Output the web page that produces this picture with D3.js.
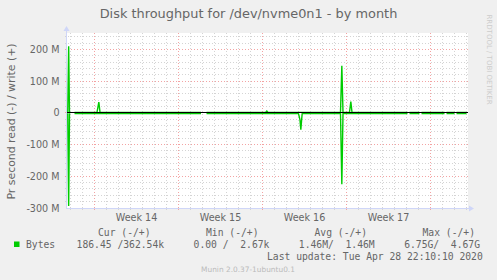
<!DOCTYPE html>
<html>
<head>
<meta charset="utf-8">
<script src="https://cdn.jsdelivr.net/npm/d3@7"></script>
<style>
  html, body { margin: 0; padding: 0; background: #f0f0f0; }
  svg { display: block; }
</style>
</head>
<body>
<script>
// Munin "Disk throughput" month graph, redrawn with d3

// --- data ---------------------------------------------------------------
// values in MB/s, read is drawn below zero. null = no data (gap)
const writeData = [
  ["2020-03-27T18:30", 0],
  ["2020-03-27T20:20", 212],
  ["2020-03-27T22:00", 0],
  ["2020-03-28T03:00", null],
  ["2020-03-28T08:00", 3.6],
  ["2020-03-30T05:00", 3.6],
  ["2020-03-30T08:40", 36],
  ["2020-03-30T11:00", 3.6],
  ["2020-04-07T21:00", 3.6],
  ["2020-04-08T02:00", null],
  ["2020-04-08T08:00", 3.6],
  ["2020-04-13T06:00", 3.6],
  ["2020-04-13T08:40", 8],
  ["2020-04-13T11:00", 3.6],
  ["2020-04-19T12:00", 3.6],
  ["2020-04-19T14:40", 151],
  ["2020-04-19T17:00", 3.6],
  ["2020-04-20T06:00", 3.6],
  ["2020-04-20T08:40", 38],
  ["2020-04-20T11:00", 3.6],
  ["2020-04-25T02:00", 3.6],
  ["2020-04-25T04:00", null],
  ["2020-04-25T06:00", 3.6],
  ["2020-04-26T02:00", 3.6],
  ["2020-04-26T04:00", null],
  ["2020-04-26T06:00", 3.6],
  ["2020-04-28T04:00", 3.6],
  ["2020-04-28T06:00", null],
  ["2020-04-28T08:00", 3.6],
  ["2020-04-29T00:00", 3.6],
  ["2020-04-29T02:00", null],
  ["2020-04-29T04:00", 3.6],
  ["2020-04-30T00:00", 3.6]
];

const readData = [
  ["2020-03-27T18:30", 0],
  ["2020-03-27T20:20", -292],
  ["2020-03-27T22:00", 0],
  ["2020-03-28T03:00", null],
  ["2020-03-28T08:00", -0.3],
  ["2020-04-07T21:00", -0.3],
  ["2020-04-08T02:00", null],
  ["2020-04-08T08:00", -0.3],
  ["2020-04-16T00:00", -0.3],
  ["2020-04-16T03:00", -20],
  ["2020-04-16T04:40", -51],
  ["2020-04-16T06:00", -25],
  ["2020-04-16T07:20", -0.3],
  ["2020-04-19T12:00", -0.3],
  ["2020-04-19T14:40", -223],
  ["2020-04-19T17:00", -0.3],
  ["2020-04-25T02:00", -0.3],
  ["2020-04-25T04:00", null],
  ["2020-04-25T06:00", -0.3],
  ["2020-04-26T02:00", -0.3],
  ["2020-04-26T04:00", null],
  ["2020-04-26T06:00", -0.3],
  ["2020-04-28T04:00", -0.3],
  ["2020-04-28T06:00", null],
  ["2020-04-28T08:00", -0.3],
  ["2020-04-29T00:00", -0.3],
  ["2020-04-29T02:00", null],
  ["2020-04-29T04:00", -0.3],
  ["2020-04-30T00:00", -0.3]
];

const timeRange = ["2020-03-27T18:00", "2020-04-30T04:00"];
const yDomain = [-300, 252.63];
const yMajorStep = 100;
const yMinorStep = 20;

const title = "Disk throughput for /dev/nvme0n1 - by month";
const yTitle = "Pr second read (-) / write (+)";
const legendHeaders = ["Cur (-/+)", "Min (-/+)", "Avg (-/+)", "Max (-/+)"];
const legendLabel = "Bytes";
const legendValues = ["186.45 /362.54k", "  0.00 /  2.67k", "  1.46M/  1.46M", "  6.75G/  4.67G"];
const lastUpdate = "Last update: Tue Apr 28 22:10:10 2020";
const footer = "Munin 2.0.37-1ubuntu0.1";
const watermark = "RRDTOOL / TOBI OETIKER";

// --- layout -------------------------------------------------------------
const width = 497, height = 280;
const plot = { left: 67, right: 468, top: 33, bottom: 208 };
const headerX = [98, 206, 314.5, 422.5];
const valuesX = 76.6, valuesStep = 105.3;

const colors = {
  back: "#f0f0f0",
  canvas: "#ffffff",
  font: "#666666",
  axis: "#cfd6f8",
  grid: "#d4d4d4",
  mgrid: "#f3a3a3",
  line: "#00cc00"
};
const sans = "'DejaVu Sans', sans-serif";
const mono = "'DejaVu Sans Mono', monospace";

// keep runs of spaces in the monospace legend
const keepSpaces = (s) => s.replace(/ /g, "\u00a0");

const parseTime = d3.utcParse("%Y-%m-%dT%H:%M");
const toPoints = (arr) => arr.map(([t, v]) => ({ t: parseTime(t), v }));
const writes = toPoints(writeData);
const reads = toPoints(readData);

const x = d3.scaleUtc()
  .domain(timeRange.map(parseTime))
  .range([plot.left, plot.right]);

const y = d3.scaleLinear()
  .domain(yDomain)
  .range([plot.bottom, plot.top]);

// snap to pixel centre
const px = (v) => Math.floor(v + 1e-6) + 0.5;

const svg = d3.select("body")
  .append("svg")
  .attr("width", width)
  .attr("height", height);

svg.append("rect")
  .attr("width", width).attr("height", height)
  .attr("fill", colors.back);

svg.append("rect")
  .attr("x", plot.left).attr("y", plot.top)
  .attr("width", plot.right - plot.left)
  .attr("height", plot.bottom - plot.top)
  .attr("fill", colors.canvas);

// grid
const yMinor = d3.range(yDomain[0], yDomain[1], yMinorStep).filter((v) => v % yMajorStep !== 0);
const yMajor = d3.range(yDomain[0] + yMajorStep, yDomain[1], yMajorStep);
const days = d3.utcDay.range(...x.domain()).filter((d) => d.getUTCDay() !== 1);
const mondays = d3.utcMonday.range(...x.domain());

const grid = svg.append("g").attr("stroke-width", 1).attr("fill", "none");

grid.selectAll(".hminor").data(yMinor).join("line")
  .attr("x1", plot.left - 2).attr("x2", plot.right)
  .attr("y1", (d) => px(y(d))).attr("y2", (d) => px(y(d)))
  .attr("stroke", colors.grid)
  .attr("stroke-dasharray", "1,2");

grid.selectAll(".vminor").data(days).join("line")
  .attr("x1", (d) => px(x(d))).attr("x2", (d) => px(x(d)))
  .attr("y1", plot.top).attr("y2", plot.bottom + 2)
  .attr("stroke", colors.grid)
  .attr("stroke-dasharray", "1,2");

grid.selectAll(".hmajor").data(yMajor).join("line")
  .attr("x1", plot.left - 2).attr("x2", plot.right)
  .attr("y1", (d) => px(y(d))).attr("y2", (d) => px(y(d)))
  .attr("stroke", colors.mgrid)
  .attr("stroke-dasharray", "1,2");

grid.selectAll(".vmajor").data(mondays).join("line")
  .attr("x1", (d) => px(x(d))).attr("x2", (d) => px(x(d)))
  .attr("y1", plot.top).attr("y2", plot.bottom + 2)
  .attr("stroke", colors.mgrid)
  .attr("stroke-dasharray", "1,2");

// solid tick stubs outside the canvas
grid.selectAll(".ytick").data(yMinor.concat(yMajor)).join("line")
  .attr("x1", plot.left - 2).attr("x2", plot.left)
  .attr("y1", (d) => px(y(d))).attr("y2", (d) => px(y(d)))
  .attr("stroke", (d) => (d % yMajorStep === 0 ? colors.mgrid : colors.grid));

grid.selectAll(".xtick").data(days.concat(mondays)).join("line")
  .attr("x1", (d) => px(x(d))).attr("x2", (d) => px(x(d)))
  .attr("y1", plot.bottom).attr("y2", plot.bottom + 2)
  .attr("stroke", (d) => (d.getUTCDay() === 1 ? colors.mgrid : colors.grid));

// series
const line = d3.line()
  .defined((d) => d.v !== null)
  .x((d) => x(d.t) + 0.5)
  .y((d) => y(d.v) + 0.5);

[reads, writes].forEach((series) => {
  svg.append("path")
    .datum(series)
    .attr("d", line)
    .attr("fill", "none")
    .attr("stroke", colors.line)
    .attr("stroke-width", 1.4)
    .attr("stroke-linejoin", "miter");
});

// zero line
svg.append("line")
  .attr("x1", plot.left).attr("x2", plot.right)
  .attr("y1", px(y(0))).attr("y2", px(y(0)))
  .attr("stroke", "#000").attr("stroke-width", 1);

// axes + arrows
svg.append("line")
  .attr("x1", plot.left - 0.5).attr("x2", plot.left - 0.5)
  .attr("y1", plot.bottom + 1).attr("y2", plot.top - 3)
  .attr("stroke", colors.axis);
svg.append("line")
  .attr("x1", plot.left - 1).attr("x2", plot.right + 2)
  .attr("y1", plot.bottom + 0.5).attr("y2", plot.bottom + 0.5)
  .attr("stroke", colors.axis);
svg.append("path")
  .attr("d", `M${plot.left - 3.5},${plot.top - 2}L${plot.left + 2.5},${plot.top - 2}L${plot.left - 0.5},${plot.top - 7}Z`)
  .attr("fill", colors.axis);
svg.append("path")
  .attr("d", `M${plot.right + 1},${plot.bottom - 2.5}L${plot.right + 1},${plot.bottom + 3.5}L${plot.right + 6},${plot.bottom + 0.5}Z`)
  .attr("fill", colors.axis);

// y tick labels
const fmtY = (v) => (v === 0 ? "0" : `${v} M`);
svg.append("g")
  .selectAll("text")
  .data(d3.range(yDomain[0], yDomain[1], yMajorStep))
  .join("text")
  .attr("x", plot.left - 7.5)
  .attr("y", (d) => px(y(d)) + 3.4)
  .attr("text-anchor", "end")
  .attr("font-family", sans)
  .attr("font-size", 9.6)
  .attr("fill", colors.font)
  .text(fmtY);

// x labels (week numbers centred in each week)
const weekCentres = d3.utcMonday.range(d3.utcMonday.offset(x.domain()[0], -1), x.domain()[1])
  .map((d) => new Date(+d + 3.5 * 864e5))
  .filter((d) => x(d) - 22 > plot.left && x(d) + 22 < plot.right);
svg.append("g")
  .selectAll("text")
  .data(weekCentres)
  .join("text")
  .attr("x", (d) => x(d) + 0.5)
  .attr("y", 220.5)
  .attr("text-anchor", "middle")
  .attr("font-family", sans)
  .attr("font-size", 9.6)
  .attr("fill", colors.font)
  .text((d) => "Week " + +d3.utcFormat("%V")(d));

// titles
svg.append("text")
  .attr("x", 248.5).attr("y", 17.6)
  .attr("text-anchor", "middle")
  .attr("font-family", sans).attr("font-size", 12.9)
  .attr("fill", colors.font)
  .text(title);

svg.append("text")
  .attr("transform", `translate(14.8,${(plot.top + plot.bottom) / 2 + 1}) rotate(-90)`)
  .attr("text-anchor", "middle")
  .attr("font-family", sans).attr("font-size", 10.9)
  .attr("fill", colors.font)
  .text(yTitle);

svg.append("text")
  .attr("transform", "translate(486.5,14.5) rotate(90)")
  .attr("font-family", sans).attr("font-size", 7)
  .attr("fill", "#cccccc")
  .text(watermark);

// legend
const legend = svg.append("g")
  .attr("font-family", mono).attr("font-size", 9.7)
  .attr("fill", colors.font);

legend.selectAll(".hdr").data(legendHeaders).join("text")
  .attr("x", (d, i) => headerX[i]).attr("y", 236.2)
  .text((d) => keepSpaces(d));

legend.append("rect")
  .attr("x", 14).attr("y", 241.5).attr("width", 5.5).attr("height", 5.5)
  .attr("fill", colors.line);
legend.append("text")
  .attr("x", 26).attr("y", 247.8)
  .text(legendLabel);
legend.selectAll(".val").data(legendValues).join("text")
  .attr("x", (d, i) => valuesX + i * valuesStep).attr("y", 247.8)
  .text((d) => keepSpaces(d));
legend.append("text")
  .attr("x", 482.8).attr("y", 260.2)
  .attr("text-anchor", "end")
  .text(keepSpaces(lastUpdate));

svg.append("text")
  .attr("x", 248).attr("y", 272)
  .attr("text-anchor", "middle")
  .attr("font-family", sans).attr("font-size", 7.4)
  .attr("fill", "#bbbbbb")
  .text(footer);
</script>
</body>
</html>
